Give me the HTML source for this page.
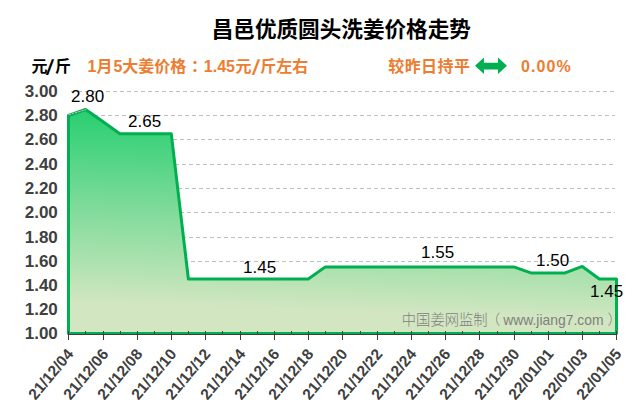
<!DOCTYPE html>
<html><head><meta charset="utf-8"><style>
html,body{margin:0;padding:0;background:#fff;}
body{width:640px;height:410px;overflow:hidden;}
svg{display:block;}
</style></head><body>
<svg width="640" height="410" viewBox="0 0 640 410">
<defs>
<linearGradient id="fillg" gradientUnits="userSpaceOnUse" x1="102" y1="108" x2="94.5" y2="334">
<stop offset="0" stop-color="#27CE70"/>
<stop offset="0.1416" stop-color="#42D37E"/>
<stop offset="0.416" stop-color="#7ADA98"/>
<stop offset="0.699" stop-color="#B0E2B0"/>
<stop offset="0.858" stop-color="#D1E6C1"/>
<stop offset="1" stop-color="#D1E6C1"/>
</linearGradient>
</defs>
<rect width="640" height="410" fill="#fff"/>
<text x="341.3" y="37" text-anchor="middle" font-family="'Liberation Sans','Noto Sans CJK SC',sans-serif" font-weight="bold" font-size="21.6" fill="#000">昌邑优质圆头洗姜价格走势</text>
<g font-family="'Liberation Sans','Noto Sans CJK SC',sans-serif" font-weight="bold" font-size="16">
<text y="72" fill="#000"><tspan x="31.5">元</tspan><tspan x="55">斤</tspan></text>
<text transform="translate(45.6,72) scale(1.5,1)" fill="#000" font-family="'Noto Sans CJK SC',sans-serif">/</text>
<text y="72" fill="#ED7D31"><tspan x="87.5">1月</tspan><tspan x="113.4">5大姜价格</tspan><tspan x="191">：</tspan><tspan x="203.8">1.45</tspan><tspan x="235.6">元</tspan><tspan x="260.3">斤左右</tspan></text>
<text transform="translate(251.6,72) scale(1.5,1)" fill="#ED7D31" font-family="'Noto Sans CJK SC',sans-serif">/</text>
<text x="388.3" y="72" fill="#ED7D31" letter-spacing="0.4">较昨日持平</text>
<text x="521" y="72" fill="#ED7D31" letter-spacing="1.1">0.00%</text>
</g>
<path d="M475,65.7 L484,57.6 L484,62.7 L498,62.7 L498,57.6 L507,65.7 L498,73.9 L498,69.6 L484,69.6 L484,73.9 Z" fill="#00B050"/>
<g stroke="#BFBFBF" stroke-width="1" stroke-dasharray="4 3">
<line x1="68" y1="91.5" x2="615" y2="91.5" stroke-dashoffset="4"/>
<line x1="68" y1="115.5" x2="615" y2="115.5" stroke-dashoffset="2"/>
<line x1="68" y1="139.5" x2="615" y2="139.5" stroke-dashoffset="0"/>
<line x1="68" y1="164.5" x2="615" y2="164.5" stroke-dashoffset="5"/>
<line x1="68" y1="188.5" x2="615" y2="188.5" stroke-dashoffset="2"/>
<line x1="68" y1="212.5" x2="615" y2="212.5" stroke-dashoffset="0"/>
<line x1="68" y1="237.5" x2="615" y2="237.5" stroke-dashoffset="5"/>
<line x1="68" y1="261.5" x2="615" y2="261.5" stroke-dashoffset="3"/>
</g>
<polygon points="68.50,333.5 68.50,115.52 85.62,109.47 102.75,121.58 119.88,133.69 137.00,133.69 154.12,133.69 171.25,133.69 188.38,279.00 205.50,279.00 222.62,279.00 239.75,279.00 256.88,279.00 274.00,279.00 291.12,279.00 308.25,279.00 325.38,266.89 342.50,266.89 359.62,266.89 376.75,266.89 393.88,266.89 411.00,266.89 428.12,266.89 445.25,266.89 462.38,266.89 479.50,266.89 496.62,266.89 513.75,266.89 530.88,272.95 548.00,272.95 565.12,272.95 582.25,266.47 599.38,279.00 616.50,279.00 616.50,333.5" fill="url(#fillg)" stroke="#00B050" stroke-width="3" stroke-linejoin="round"/>
<line x1="68.6" y1="114.8" x2="86.3" y2="109.5" stroke="#BEBEBE" stroke-width="1" stroke-dasharray="2.6 0.7"/>
<g stroke="#404040" stroke-width="1">
<line x1="68" y1="334.5" x2="617" y2="334.5"/>
<line x1="68.5" y1="331" x2="68.5" y2="340"/>
<line x1="85.5" y1="331" x2="85.5" y2="334"/>
<line x1="103.5" y1="331" x2="103.5" y2="340"/>
<line x1="120.5" y1="331" x2="120.5" y2="334"/>
<line x1="137.5" y1="331" x2="137.5" y2="340"/>
<line x1="154.5" y1="331" x2="154.5" y2="334"/>
<line x1="171.5" y1="331" x2="171.5" y2="340"/>
<line x1="188.5" y1="331" x2="188.5" y2="334"/>
<line x1="205.5" y1="331" x2="205.5" y2="340"/>
<line x1="222.5" y1="331" x2="222.5" y2="334"/>
<line x1="240.5" y1="331" x2="240.5" y2="340"/>
<line x1="257.5" y1="331" x2="257.5" y2="334"/>
<line x1="274.5" y1="331" x2="274.5" y2="340"/>
<line x1="291.5" y1="331" x2="291.5" y2="334"/>
<line x1="308.5" y1="331" x2="308.5" y2="340"/>
<line x1="325.5" y1="331" x2="325.5" y2="334"/>
<line x1="342.5" y1="331" x2="342.5" y2="340"/>
<line x1="360.5" y1="331" x2="360.5" y2="334"/>
<line x1="377.5" y1="331" x2="377.5" y2="340"/>
<line x1="394.5" y1="331" x2="394.5" y2="334"/>
<line x1="411.5" y1="331" x2="411.5" y2="340"/>
<line x1="428.5" y1="331" x2="428.5" y2="334"/>
<line x1="445.5" y1="331" x2="445.5" y2="340"/>
<line x1="462.5" y1="331" x2="462.5" y2="334"/>
<line x1="479.5" y1="331" x2="479.5" y2="340"/>
<line x1="497.5" y1="331" x2="497.5" y2="334"/>
<line x1="514.5" y1="331" x2="514.5" y2="340"/>
<line x1="531.5" y1="331" x2="531.5" y2="334"/>
<line x1="548.5" y1="331" x2="548.5" y2="340"/>
<line x1="565.5" y1="331" x2="565.5" y2="334"/>
<line x1="582.5" y1="331" x2="582.5" y2="340"/>
<line x1="599.5" y1="331" x2="599.5" y2="334"/>
<line x1="616.5" y1="331" x2="616.5" y2="340"/>
</g>
<g font-family="'Liberation Sans',sans-serif" font-weight="bold" font-size="17" fill="#404040" text-anchor="end">
<text x="57.8" y="96.6">3.00</text>
<text x="57.8" y="120.6">2.80</text>
<text x="57.8" y="144.6">2.60</text>
<text x="57.8" y="169.6">2.40</text>
<text x="57.8" y="193.6">2.20</text>
<text x="57.8" y="217.6">2.00</text>
<text x="57.8" y="242.6">1.80</text>
<text x="57.8" y="266.6">1.60</text>
<text x="57.8" y="290.6">1.40</text>
<text x="57.8" y="314.6">1.20</text>
<text x="57.8" y="338.6">1.00</text>
</g>
<g font-family="'Liberation Sans',sans-serif" font-size="17" fill="#000">
<text x="71" y="101.5">2.80</text>
<text x="128" y="127">2.65</text>
<text x="243" y="272.5">1.45</text>
<text x="421" y="257.8">1.55</text>
<text x="536" y="266.3">1.50</text>
<text x="590" y="297">1.45</text>
</g>
<text y="324.8" fill="#7F7F7F" font-size="14.3" font-weight="300"><tspan x="401.8" font-family="'Noto Sans CJK SC',sans-serif">中国姜网监制</tspan><tspan x="486" font-family="'Noto Sans CJK SC',sans-serif">（</tspan><tspan x="503.2" font-family="'Liberation Sans',sans-serif" font-size="13.9" font-weight="normal">www.jiang7.com</tspan><tspan x="607.5" font-family="'Noto Sans CJK SC',sans-serif">）</tspan></text>
<g font-family="'Liberation Sans',sans-serif" font-weight="bold" font-size="15.5" fill="#404040" text-anchor="end">
<text transform="translate(74.2,354.5) rotate(-50)">21/12/04</text>
<text transform="translate(109.2,354.5) rotate(-50)">21/12/06</text>
<text transform="translate(143.2,354.5) rotate(-50)">21/12/08</text>
<text transform="translate(177.2,354.5) rotate(-50)">21/12/10</text>
<text transform="translate(211.2,354.5) rotate(-50)">21/12/12</text>
<text transform="translate(246.2,354.5) rotate(-50)">21/12/14</text>
<text transform="translate(280.2,354.5) rotate(-50)">21/12/16</text>
<text transform="translate(314.2,354.5) rotate(-50)">21/12/18</text>
<text transform="translate(348.2,354.5) rotate(-50)">21/12/20</text>
<text transform="translate(383.2,354.5) rotate(-50)">21/12/22</text>
<text transform="translate(417.2,354.5) rotate(-50)">21/12/24</text>
<text transform="translate(451.2,354.5) rotate(-50)">21/12/26</text>
<text transform="translate(485.2,354.5) rotate(-50)">21/12/28</text>
<text transform="translate(520.2,354.5) rotate(-50)">21/12/30</text>
<text transform="translate(554.2,354.5) rotate(-50)">22/01/01</text>
<text transform="translate(588.2,354.5) rotate(-50)">22/01/03</text>
<text transform="translate(622.2,354.5) rotate(-50)">22/01/05</text>
</g>
</svg>
</body></html>
